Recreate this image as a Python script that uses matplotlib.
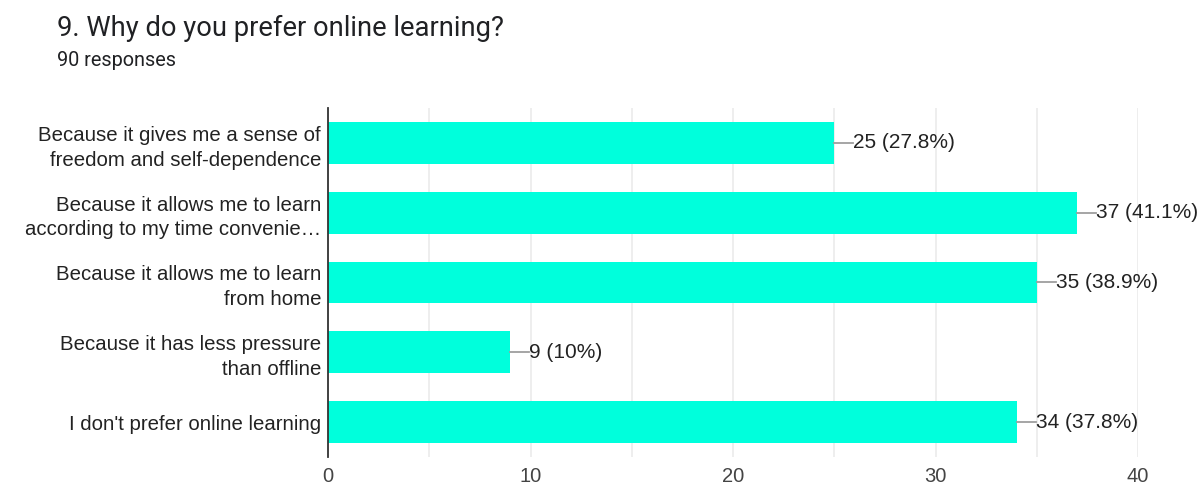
import numpy as np
import matplotlib.pyplot as plt

plt.rcParams["font.family"] = ["Liberation Sans", "DejaVu Sans"]

categories = [
    "Because it gives me a sense of\nfreedom and self-dependence",
    "Because it allows me to learn\naccording to my time convenie\u2026",
    "Because it allows me to learn\nfrom home",
    "Because it has less pressure\nthan offline",
    "I don't prefer online learning",
]
counts = [25, 37, 35, 9, 34]
labels = ["25 (27.8%)", "37 (41.1%)", "35 (38.9%)", "9 (10%)", "34 (37.8%)"]

fig = plt.figure(figsize=(12.01, 4.86), dpi=100)
ax = fig.add_axes([328 / 1201, 1 - 457 / 486, 810 / 1201, 349 / 486])

y = np.arange(len(categories))
ax.barh(y, counts, height=0.6, color="#00ffdc", zorder=2)

for yi, c, lab in zip(y, counts, labels):
    ax.plot([c, c + 0.95], [yi, yi], color="#9e9e9e", lw=1.3, zorder=3)
    ax.text(c + 0.95, yi, lab, va="center", ha="left", fontsize=15, color="#222222")

ax.set_xlim(0, 40)
ax.set_ylim(4.5, -0.5)
ax.set_xticks([0, 10, 20, 30, 40])
ax.set_xticks([5, 15, 25, 35], minor=True)
ax.grid(axis="x", which="both", color="#ebebeb", lw=1.2, zorder=0)
ax.set_yticks(y)
ax.set_yticklabels(categories, fontsize=14.7, color="#222222", linespacing=1.38)
ax.tick_params(axis="both", which="both", length=0)
ax.tick_params(axis="x", labelsize=14.5, labelcolor="#444444", pad=7)
ax.tick_params(axis="y", pad=5)

for s in ["top", "right", "bottom"]:
    ax.spines[s].set_visible(False)
ax.spines["left"].set_color("#333333")
ax.spines["left"].set_linewidth(1.3)
ax.spines["left"].set_zorder(4)

fig.text(57 / 1201, 1 - 28 / 486, "9. Why do you prefer online learning?",
         fontsize=19.7, color="#202124", va="center", ha="left", family="Roboto")
fig.text(57 / 1201, 1 - 61 / 486, "90 responses",
         fontsize=14.3, color="#202124", va="center", ha="left", family="Roboto")

fig.savefig("out.png", dpi=100)
